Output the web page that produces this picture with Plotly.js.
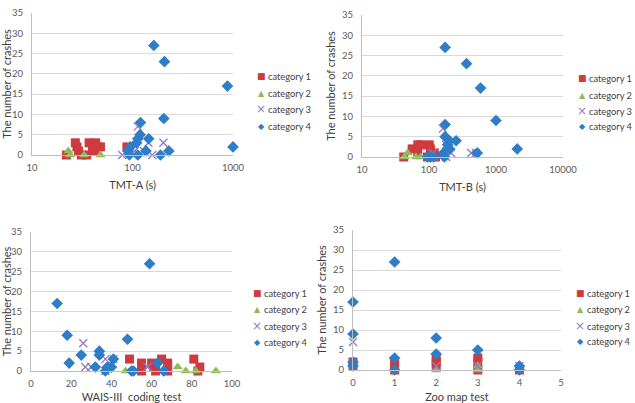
<!DOCTYPE html>
<html>
<head>
<meta charset="utf-8">
<script src="https://cdn.plot.ly/plotly-3.0.1.min.js"></script>
<style>
  html, body { margin: 0; padding: 0; background: #ffffff; }
  #chart { width: 635px; height: 403px; }
</style>
</head>
<body>
<div id="chart"></div>
<script>
// Crash counts per participant against four neuropsychological test scores,
// split into four driver categories.
const categories = ["category 1", "category 2", "category 3", "category 4"];

// TMT-A completion time (s) and number of crashes
const tmtA_c1_x = [22, 28, 27, 29, 31, 37, 40, 42, 45, 48, 35, 43, 88];
const tmtA_c1_y = [0, 2, 3, 1, 0, 3, 2, 1, 2, 2, 0, 3, 2];
const tmtA_c2_x = [23, 24, 48, 33];
const tmtA_c2_y = [1, 0, 0, 0];
const tmtA_c3_x = [79, 113, 105, 130, 144, 157, 203];
const tmtA_c3_y = [0, 7, 1, 1, 3, 0, 3];
const tmtA_c4_x = [163, 208, 880, 1000, 205, 120, 119, 113, 110, 145, 136, 230, 190, 90, 93, 113, 95];
const tmtA_c4_y = [27, 23, 17, 2, 9, 8, 5, 4, 3, 4, 1, 1, 0, 1, 0, 0, 2];

// TMT-B completion time (s) and number of crashes
const tmtB_c1_x = [42, 56, 68, 75, 68, 101, 105, 120, 95, 125];
const tmtB_c1_y = [0, 2, 3, 3, 1, 3, 2, 1, 0, 0];
const tmtB_c2_x = [43, 48, 64, 114, 75];
const tmtB_c2_y = [0, 1, 0, 0, 0];
const tmtB_c3_x = [161, 180, 214, 180, 426, 500, 114];
const tmtB_c3_y = [7, 3, 1, 0, 1, 1, 1];
const tmtB_c4_x = [174, 363, 588, 1000, 2075, 525, 174, 174, 203, 254, 190, 203, 165, 170, 118, 95, 105];
const tmtB_c4_y = [27, 23, 17, 9, 2, 1, 8, 5, 4, 4, 3, 2, 1, 0, 0, 0, 0];

// WAIS-III coding test score and number of crashes
const wais_c1_x = [49, 55, 55, 55, 60, 61, 62, 65, 68, 68, 81, 83, 84];
const wais_c1_y = [3, 2, 1, 0, 2, 1, 0, 3, 2, 0, 3, 0, 1];
const wais_c2_x = [47, 73, 77, 82, 92];
const wais_c2_y = [0, 1, 0, 0, 0];
const wais_c3_x = [26, 27, 30, 37, 37, 39, 41, 58];
const wais_c3_y = [7, 1, 1, 3, 0, 1, 3, 1];
const wais_c4_x = [13, 18, 19, 25, 34, 34, 32, 38, 40, 41, 48, 59, 50, 51, 63, 66, 37];
const wais_c4_y = [17, 9, 2, 4, 5, 4, 1, 1, 1, 3, 8, 27, 0, 0, 2, 0, 0];

// Zoo map test score and number of crashes
const zoo_c1_x = [0, 0, 1, 1, 1, 2, 2, 2, 3, 3, 3, 4];
const zoo_c1_y = [2, 1, 2, 1, 0, 3, 2, 1, 3, 2, 0, 0];
const zoo_c2_x = [1, 2, 3, 3];
const zoo_c2_y = [0, 0, 1, 0];
const zoo_c3_x = [0, 0, 2, 3, 4];
const zoo_c3_y = [7, 1, 1, 1, 1];
const zoo_c4_x = [0, 0, 0, 0, 1, 1, 1, 2, 2, 3, 4, 4];
const zoo_c4_y = [17, 9, 2, 1, 27, 3, 0, 8, 4, 5, 1, 0];

const W = 635, H = 403;
const FONT = "Lato, 'Open Sans', sans-serif";
const colors = ["#CF3A3E", "#8DBB5A", "#8D7CC0", "#2F7DC6"];
const symbols = ["square", "triangle-up", "x-thin-open", "diamond"];
const sizes = [9, 9, 8, 9];
// small key glyphs for each category
const keyGlyphs = ["\u25A0", "\u25B2", "\u00D7", "\u25C6"];
const keySizes = [9, 8, 12, 8];

const panels = [
  { xs: [tmtA_c1_x, tmtA_c2_x, tmtA_c3_x, tmtA_c4_x], ys: [tmtA_c1_y, tmtA_c2_y, tmtA_c3_y, tmtA_c4_y],
    title: "TMT-A (s)", log: true, range: [1, 3], px: [32, 233], py: [13, 155],
    key: { mx: 261, tx: 266, rows: [76, 93, 109, 126] } },
  { xs: [tmtB_c1_x, tmtB_c2_x, tmtB_c3_x, tmtB_c4_x], ys: [tmtB_c1_y, tmtB_c2_y, tmtB_c3_y, tmtB_c4_y],
    title: "TMT-B (s)", log: true, range: [1, 4], px: [362, 563], py: [15, 157],
    key: { mx: 582, tx: 587, rows: [78, 95, 111, 127] } },
  { xs: [wais_c1_x, wais_c2_x, wais_c3_x, wais_c4_x], ys: [wais_c1_y, wais_c2_y, wais_c3_y, wais_c4_y],
    title: "WAIS-III  coding test", log: false, range: [0, 100], dtick: 20, px: [31, 232], py: [232, 371],
    key: { mx: 257, tx: 262, rows: [293, 309, 326, 342] } },
  { xs: [zoo_c1_x, zoo_c2_x, zoo_c3_x, zoo_c4_x], ys: [zoo_c1_y, zoo_c2_y, zoo_c3_y, zoo_c4_y],
    title: "Zoo map test", log: false, range: [0, 5], dtick: 1, px: [353, 561], py: [230, 370],
    key: { mx: 580, tx: 585, rows: [293, 309, 326, 341] } }
];

const data = [];
const annotations = [];
const layout = {
  width: W, height: H,
  margin: { l: 0, r: 0, t: 0, b: 0 },
  paper_bgcolor: "#ffffff",
  plot_bgcolor: "#ffffff",
  font: { family: FONT, size: 10, color: "#595959" },
  showlegend: false
};

panels.forEach((p, i) => {
  const n = i + 1;
  const sfx = n === 1 ? "" : String(n);

  for (let c = 0; c < 4; c++) {
    data.push({
      type: "scatter", mode: "markers",
      name: categories[c],
      x: p.xs[c], y: p.ys[c],
      xaxis: "x" + sfx, yaxis: "y" + sfx,
      cliponaxis: false,
      marker: {
        symbol: symbols[c], size: sizes[c], color: colors[c],
        line: { width: c === 2 ? 1.3 : 0, color: colors[c] }
      }
    });

    // key entry: glyph + label
    const ky = 1 - p.key.rows[c] / H;
    annotations.push({
      xref: "paper", yref: "paper", x: p.key.mx / W, y: ky,
      xanchor: "center", yanchor: "middle", showarrow: false,
      text: keyGlyphs[c],
      font: { family: "DejaVu Sans", size: keySizes[c], color: colors[c] }
    });
    annotations.push({
      xref: "paper", yref: "paper", x: p.key.tx / W, y: ky,
      xanchor: "left", yanchor: "middle", showarrow: false,
      text: categories[c],
      font: { family: FONT, size: 9.3, color: "#404040" }
    });
  }

  layout["xaxis" + sfx] = {
    domain: [p.px[0] / W, p.px[1] / W],
    anchor: "y" + sfx,
    type: p.log ? "log" : "linear",
    range: p.range,
    dtick: p.log ? 1 : p.dtick,
    tickformat: p.log ? "d" : "",
    exponentformat: "none",
    showgrid: false, zeroline: false,
    showline: true, linecolor: "#BFBFBF", linewidth: 1,
    ticks: "outside", ticklen: 4, tickcolor: "rgba(0,0,0,0)",
    tickfont: { family: FONT, size: 9.5, color: "#595959" },
    title: { text: p.title, font: { family: FONT, size: 11, color: "#404040" }, standoff: 8 },
    automargin: false, fixedrange: true
  };
  layout["yaxis" + sfx] = {
    domain: [1 - p.py[1] / H, 1 - p.py[0] / H],
    anchor: "x" + sfx,
    range: [0, 35], dtick: 5,
    showgrid: true, gridcolor: "#D9D9D9", gridwidth: 1,
    zeroline: false,
    showline: true, linecolor: "#BFBFBF", linewidth: 1,
    ticks: "outside", ticklen: 6, tickcolor: "rgba(0,0,0,0)",
    tickfont: { family: FONT, size: 9.5, color: "#595959" },
    title: { text: "The number of crashes", font: { family: FONT, size: 11, color: "#404040" }, standoff: 4 },
    automargin: false, fixedrange: true
  };
});

layout.annotations = annotations;

Plotly.newPlot("chart", data, layout, { staticPlot: true, displayModeBar: false });
</script>
</body>
</html>
